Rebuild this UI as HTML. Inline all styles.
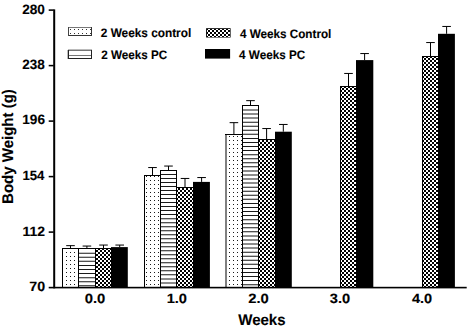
<!DOCTYPE html><html><head><meta charset="utf-8"><style>html,body{margin:0;padding:0;background:#fff;overflow:hidden;}svg{display:block;}text{font-family:"Liberation Sans",sans-serif;font-weight:bold;fill:#000;text-rendering:geometricPrecision;stroke:#000;stroke-width:0.12px;}</style></head><body>
<svg width="468" height="328" viewBox="0 0 468 328">
<defs>
<pattern id="p020" patternUnits="userSpaceOnUse" width="4" height="4"><rect width="4" height="4" fill="#fff"/><rect x="2" y="0" width="1" height="1" fill="#1a1a1a"/></pattern>
<pattern id="p101" patternUnits="userSpaceOnUse" width="4" height="4"><rect width="4" height="4" fill="#fff"/><rect x="0" y="1" width="4" height="1" fill="#222"/></pattern>
<pattern id="p200" patternUnits="userSpaceOnUse" width="4" height="4"><rect width="4" height="4" fill="#fff"/><rect x="2" y="0" width="2" height="2" fill="#000"/><rect x="0" y="2" width="2" height="2" fill="#000"/></pattern>
<pattern id="p102" patternUnits="userSpaceOnUse" width="4" height="4"><rect width="4" height="4" fill="#fff"/><rect x="0" y="2" width="4" height="1" fill="#222"/></pattern>
<pattern id="p010" patternUnits="userSpaceOnUse" width="4" height="4"><rect width="4" height="4" fill="#fff"/><rect x="1" y="0" width="1" height="1" fill="#1a1a1a"/></pattern>
</defs>
<rect width="468" height="328" fill="#fff"/>
<rect x="62" y="248" width="17" height="39" fill="url(#p020)" shape-rendering="crispEdges"/>
<rect x="62" y="248" width="1" height="39" fill="#000"/>
<rect x="78" y="248" width="1" height="39" fill="#000" shape-rendering="crispEdges"/>
<rect x="62" y="248" width="17" height="1" fill="#000" shape-rendering="crispEdges"/>
<rect x="70.00" y="245.65" width="1" height="2.35" fill="#000"/>
<rect x="66.20" y="245.15" width="8.6" height="1" fill="#000"/>
<rect x="78" y="248" width="18" height="39" fill="#fff" shape-rendering="crispEdges"/>
<path d="M78 252.65h17v1h-17zM78 256.74h17v1h-17zM78 260.83h17v1h-17zM78 264.92h17v1h-17zM78 269.01h17v1h-17zM78 273.10h17v1h-17zM78 277.19h17v1h-17zM78 281.28h17v1h-17zM78 285.37h17v1h-17z" fill="#1a1a1a"/>
<rect x="78" y="248" width="1" height="39" fill="#000"/>
<rect x="95" y="248" width="1" height="39" fill="#000" shape-rendering="crispEdges"/>
<rect x="78" y="248" width="18" height="1" fill="#000" shape-rendering="crispEdges"/>
<rect x="86.40" y="246.05" width="1" height="1.95" fill="#000"/>
<rect x="82.60" y="245.55" width="8.6" height="1" fill="#000"/>
<rect x="95" y="248" width="17" height="39" fill="url(#p200)" shape-rendering="crispEdges"/>
<rect x="95" y="248" width="1" height="39" fill="#000"/>
<rect x="111" y="248" width="1" height="39" fill="#000" shape-rendering="crispEdges"/>
<rect x="95" y="248" width="17" height="1" fill="#000" shape-rendering="crispEdges"/>
<rect x="103.00" y="245.05" width="1" height="2.95" fill="#000"/>
<rect x="99.20" y="244.55" width="8.6" height="1" fill="#000"/>
<rect x="111" y="247.1" width="16.8" height="39.9" fill="#000"/>
<rect x="119.20" y="245.05" width="1" height="2.05" fill="#000"/>
<rect x="115.40" y="244.55" width="8.6" height="1" fill="#000"/>
<rect x="144" y="175" width="17" height="112" fill="url(#p020)" shape-rendering="crispEdges"/>
<rect x="144" y="175" width="1" height="112" fill="#000"/>
<rect x="160" y="175" width="1" height="112" fill="#000" shape-rendering="crispEdges"/>
<rect x="144" y="175" width="17" height="1" fill="#000" shape-rendering="crispEdges"/>
<rect x="152.00" y="167.55" width="1" height="7.45" fill="#000"/>
<rect x="148.20" y="167.05" width="8.6" height="1" fill="#000"/>
<rect x="160" y="170" width="17" height="117" fill="#fff" shape-rendering="crispEdges"/>
<path d="M160 173.95h16v1h-16zM160 177.97h16v1h-16zM160 181.98h16v1h-16zM160 186.00h16v1h-16zM160 190.02h16v1h-16zM160 194.03h16v1h-16zM160 198.05h16v1h-16zM160 202.07h16v1h-16zM160 206.09h16v1h-16zM160 210.10h16v1h-16zM160 214.12h16v1h-16zM160 218.14h16v1h-16zM160 222.15h16v1h-16zM160 226.17h16v1h-16zM160 230.19h16v1h-16zM160 234.20h16v1h-16zM160 238.22h16v1h-16zM160 242.24h16v1h-16zM160 246.26h16v1h-16zM160 250.27h16v1h-16zM160 254.29h16v1h-16zM160 258.31h16v1h-16zM160 262.32h16v1h-16zM160 266.34h16v1h-16zM160 270.36h16v1h-16zM160 274.37h16v1h-16zM160 278.39h16v1h-16zM160 282.41h16v1h-16zM160 286.43h16v1h-16z" fill="#1a1a1a"/>
<rect x="160" y="170" width="1" height="117" fill="#000"/>
<rect x="176" y="170" width="1" height="117" fill="#000" shape-rendering="crispEdges"/>
<rect x="160" y="170" width="17" height="1" fill="#000" shape-rendering="crispEdges"/>
<rect x="168.00" y="166.05" width="1" height="3.95" fill="#000"/>
<rect x="164.20" y="165.55" width="8.6" height="1" fill="#000"/>
<rect x="176" y="187" width="18" height="100" fill="url(#p200)" shape-rendering="crispEdges"/>
<rect x="176" y="187" width="1" height="100" fill="#000"/>
<rect x="193" y="187" width="1" height="100" fill="#000" shape-rendering="crispEdges"/>
<rect x="176" y="187" width="18" height="1" fill="#000" shape-rendering="crispEdges"/>
<rect x="184.50" y="178.45" width="1" height="8.55" fill="#000"/>
<rect x="180.70" y="177.95" width="8.6" height="1" fill="#000"/>
<rect x="193" y="181.9" width="16.9" height="105.1" fill="#000"/>
<rect x="201.10" y="177.55" width="1" height="4.35" fill="#000"/>
<rect x="197.30" y="177.05" width="8.6" height="1" fill="#000"/>
<rect x="225" y="134" width="18" height="153" fill="url(#p010)" shape-rendering="crispEdges"/>
<rect x="225" y="134" width="1" height="153" fill="#fff" shape-rendering="crispEdges"/>
<rect x="226" y="134" width="1" height="153" fill="#fff" shape-rendering="crispEdges"/>
<rect x="225.5" y="134" width="1" height="153" fill="#000"/>
<rect x="242" y="134" width="1" height="153" fill="#000" shape-rendering="crispEdges"/>
<rect x="225" y="134" width="18" height="1" fill="#000" shape-rendering="crispEdges"/>
<rect x="233.40" y="122.65" width="1" height="11.35" fill="#000"/>
<rect x="229.60" y="122.15" width="8.6" height="1" fill="#000"/>
<rect x="242" y="105" width="17" height="182" fill="#fff" shape-rendering="crispEdges"/>
<path d="M242 109.45h16v1h-16zM242 113.51h16v1h-16zM242 117.58h16v1h-16zM242 121.64h16v1h-16zM242 125.70h16v1h-16zM242 129.77h16v1h-16zM242 133.83h16v1h-16zM242 137.89h16v1h-16zM242 141.95h16v1h-16zM242 146.02h16v1h-16zM242 150.08h16v1h-16zM242 154.14h16v1h-16zM242 158.21h16v1h-16zM242 162.27h16v1h-16zM242 166.33h16v1h-16zM242 170.39h16v1h-16zM242 174.46h16v1h-16zM242 178.52h16v1h-16zM242 182.58h16v1h-16zM242 186.65h16v1h-16zM242 190.71h16v1h-16zM242 194.77h16v1h-16zM242 198.84h16v1h-16zM242 202.90h16v1h-16zM242 206.96h16v1h-16zM242 211.02h16v1h-16zM242 215.09h16v1h-16zM242 219.15h16v1h-16zM242 223.21h16v1h-16zM242 227.28h16v1h-16zM242 231.34h16v1h-16zM242 235.40h16v1h-16zM242 239.47h16v1h-16zM242 243.53h16v1h-16zM242 247.59h16v1h-16zM242 251.65h16v1h-16zM242 255.72h16v1h-16zM242 259.78h16v1h-16zM242 263.84h16v1h-16zM242 267.91h16v1h-16zM242 271.97h16v1h-16zM242 276.03h16v1h-16zM242 280.10h16v1h-16zM242 284.16h16v1h-16z" fill="#1a1a1a"/>
<rect x="242" y="105" width="1" height="182" fill="#000"/>
<rect x="258" y="105" width="1" height="182" fill="#000" shape-rendering="crispEdges"/>
<rect x="242" y="105" width="17" height="1" fill="#000" shape-rendering="crispEdges"/>
<rect x="250.00" y="100.65" width="1" height="4.35" fill="#000"/>
<rect x="246.20" y="100.15" width="8.6" height="1" fill="#000"/>
<rect x="258" y="139" width="18" height="148" fill="url(#p200)" shape-rendering="crispEdges"/>
<rect x="258" y="139" width="1" height="148" fill="#000"/>
<rect x="275" y="139" width="1" height="148" fill="#000" shape-rendering="crispEdges"/>
<rect x="258" y="139" width="18" height="1" fill="#000" shape-rendering="crispEdges"/>
<rect x="266.10" y="128.55" width="1" height="10.45" fill="#000"/>
<rect x="262.30" y="128.05" width="8.6" height="1" fill="#000"/>
<rect x="275" y="131.7" width="16.8" height="155.3" fill="#000"/>
<rect x="282.80" y="124.45" width="1" height="7.25" fill="#000"/>
<rect x="279.00" y="123.95" width="8.6" height="1" fill="#000"/>
<rect x="340" y="86" width="17" height="201" fill="url(#p200)" shape-rendering="crispEdges"/>
<rect x="340" y="86" width="1" height="201" fill="#000"/>
<rect x="356" y="86" width="1" height="201" fill="#000" shape-rendering="crispEdges"/>
<rect x="340" y="86" width="17" height="1" fill="#000" shape-rendering="crispEdges"/>
<rect x="348.00" y="73.45" width="1" height="12.55" fill="#000"/>
<rect x="344.20" y="72.95" width="8.6" height="1" fill="#000"/>
<rect x="356" y="60.1" width="17.3" height="226.9" fill="#000"/>
<rect x="364.10" y="53.55" width="1" height="6.55" fill="#000"/>
<rect x="360.30" y="53.05" width="8.6" height="1" fill="#000"/>
<rect x="422" y="56" width="17" height="231" fill="url(#p200)" shape-rendering="crispEdges"/>
<rect x="422" y="56" width="1" height="231" fill="#000"/>
<rect x="438" y="56" width="1" height="231" fill="#000" shape-rendering="crispEdges"/>
<rect x="422" y="56" width="17" height="1" fill="#000" shape-rendering="crispEdges"/>
<rect x="430.00" y="42.55" width="1" height="13.45" fill="#000"/>
<rect x="426.20" y="42.05" width="8.6" height="1" fill="#000"/>
<rect x="438" y="33.8" width="16.9" height="253.2" fill="#000"/>
<rect x="446.10" y="26.45" width="1" height="7.35" fill="#000"/>
<rect x="442.30" y="25.95" width="8.6" height="1" fill="#000"/>
<rect x="53.2" y="9.35" width="2" height="279" fill="#000"/>
<rect x="48.7" y="286.8" width="418" height="1.6" fill="#000"/>
<rect x="48.7" y="9.33" width="5" height="1.55" fill="#000"/>
<rect x="48.7" y="64.83" width="5" height="1.55" fill="#000"/>
<rect x="48.7" y="120.33" width="5" height="1.55" fill="#000"/>
<rect x="48.7" y="175.83" width="5" height="1.55" fill="#000"/>
<rect x="48.7" y="231.33" width="5" height="1.55" fill="#000"/>
<text transform="translate(22.22,14) scale(1.048,1.04)" font-size="13">280</text>
<text transform="translate(22.16,69) scale(1.038,1.04)" font-size="13">238</text>
<text transform="translate(22.29,124) scale(1.047,1.04)" font-size="13">196</text>
<text transform="translate(22.38,180) scale(1.018,1.04)" font-size="13">154</text>
<text transform="translate(22.51,236) scale(1.077,1.04)" font-size="13">112</text>
<text transform="translate(29.35,291) scale(1.096,1.04)" font-size="13">70</text>
<text transform="translate(84.69,303) scale(1.141,1.03)" font-size="13">0.0</text>
<text transform="translate(166.63,303) scale(1.127,1.03)" font-size="13">1.0</text>
<text transform="translate(248.18,303) scale(1.139,1.03)" font-size="13">2.0</text>
<text transform="translate(329.86,303) scale(1.127,1.03)" font-size="13">3.0</text>
<text transform="translate(411.93,303) scale(1.119,1.03)" font-size="13">4.0</text>
<text transform="translate(238.3,325) scale(1.0,1.03)" font-size="15">Weeks</text>
<text transform="translate(13.1,203.9) rotate(-90) scale(1,1.03)" font-size="15">Body Weight (g)</text>
<g shape-rendering="crispEdges">
<rect x="68" y="27" width="24" height="9" fill="#fff"/>
<rect x="68" y="27" width="24" height="1" fill="#777"/>
<rect x="68" y="35" width="24" height="1" fill="#333"/>
<rect x="68" y="27" width="1" height="9" fill="#444"/>
<rect x="91" y="27" width="1" height="9" fill="#333"/>
<rect x="70" y="29" width="1" height="1" fill="#333"/>
<rect x="74" y="29" width="1" height="1" fill="#333"/>
<rect x="78" y="29" width="1" height="1" fill="#333"/>
<rect x="82" y="29" width="1" height="1" fill="#333"/>
<rect x="86" y="29" width="1" height="1" fill="#333"/>
<rect x="90" y="29" width="1" height="1" fill="#333"/>
<rect x="70" y="33" width="1" height="1" fill="#333"/>
<rect x="74" y="33" width="1" height="1" fill="#333"/>
<rect x="78" y="33" width="1" height="1" fill="#333"/>
<rect x="82" y="33" width="1" height="1" fill="#333"/>
<rect x="86" y="33" width="1" height="1" fill="#333"/>
<rect x="90" y="33" width="1" height="1" fill="#333"/>
<rect x="68" y="49" width="24" height="10" fill="#fff"/>
<rect x="68" y="49" width="24" height="1" fill="#bbb"/>
<rect x="68" y="50" width="24" height="1" fill="#777"/>
<rect x="68" y="55" width="24" height="1" fill="#777"/>
<rect x="68" y="58" width="24" height="1" fill="#222"/>
<rect x="68" y="50" width="1" height="9" fill="#222"/>
<rect x="91" y="50" width="1" height="9" fill="#222"/>
<rect x="67" y="50" width="1" height="9" fill="#bbb"/>
<rect x="206.1" y="28.2" width="24.5" height="9.3" fill="#000" shape-rendering="auto"/>
<rect x="207" y="29" width="23" height="8" fill="url(#p200)"/>
<rect x="205" y="49" width="25.1" height="9.6" fill="#000" shape-rendering="auto"/>
</g>
<text transform="translate(100.78,37) scale(0.985,1.02)" font-size="12">2 Weeks control</text>
<text transform="translate(101.16,59) scale(0.973,1.02)" font-size="12">2 Weeks PC</text>
<text transform="translate(239.91,38) scale(0.975,1.02)" font-size="12">4 Weeks Control</text>
<text transform="translate(239.07,59) scale(0.975,1.02)" font-size="12">4 Weeks PC</text>
</svg></body></html>
